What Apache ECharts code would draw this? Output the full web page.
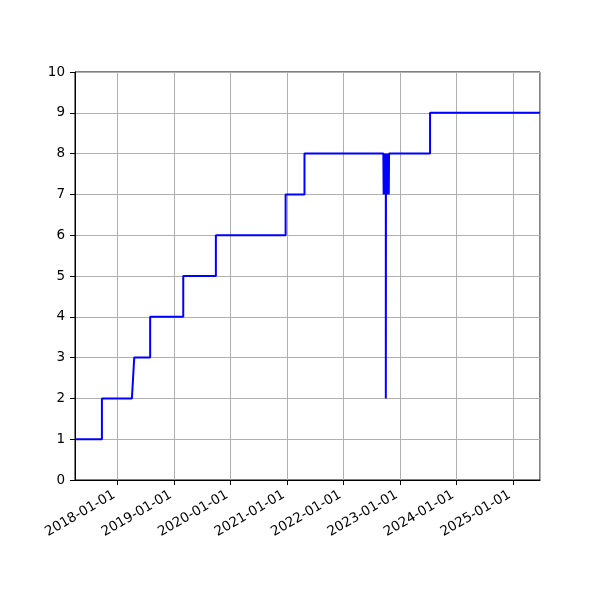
<!DOCTYPE html>
<html>
<head>
<meta charset="utf-8">
<script src="https://cdn.jsdelivr.net/npm/echarts@6/dist/echarts.min.js"></script>
<style>
  html, body { margin: 0; padding: 0; background: #fff; }
  #chart { width: 600px; height: 600px; }
</style>
</head>
<body>
<div id="chart"></div>
<script>
// x range of the plot
const xMin = '2017-03-31'
const xMax = '2025-06-24'

// dates and levels
const dates = [
  '2017-03-31', '2017-09-21', '2017-09-21', '2018-04-03', '2018-04-18',
  '2018-07-30', '2018-07-30', '2019-03-01', '2019-03-01', '2019-09-28',
  '2019-09-28', '2020-12-22', '2020-12-22', '2021-04-23', '2021-04-23',
  '2022-09-15', '2022-09-17', '2022-09-19', '2022-09-21', '2022-09-23',
  '2022-09-25', '2022-09-27', '2022-09-29', '2022-10-01', '2022-10-01',
  '2022-10-02', '2022-10-04', '2022-10-06', '2022-10-08', '2022-10-10',
  '2022-10-12', '2022-10-14', '2022-10-16', '2022-10-18', '2022-10-20',
  '2022-10-22', '2022-10-24', '2023-07-14', '2023-07-14', '2025-06-24'
]
const values = [
  1, 1, 2, 2, 3,
  3, 4, 4, 5, 5,
  6, 6, 7, 7, 8,
  8, 7, 8, 7, 8,
  7, 8, 7, 8, 2,
  8, 7, 8, 7, 8,
  7, 8, 7, 8, 7,
  8, 8, 8, 9, 9
]
const yTicks = [0, 1, 2, 3, 4, 5, 6, 7, 8, 9, 10]

const font = 'DejaVu Sans'
const chart = echarts.init(document.getElementById('chart'))

chart.setOption({
  animation: false,
  grid: {
    left: 75, right: 60, top: 72, bottom: 120,
    show: true, borderColor: '#000', borderWidth: 1
  },
  xAxis: {
    type: 'time',
    min: xMin,
    max: xMax,
    minInterval: 365 * 24 * 3600 * 1000,
    axisLine: { lineStyle: { color: '#000', width: 1 } },
    axisTick: { show: true, length: 5, lineStyle: { color: '#000' } },
    splitLine: { show: true, lineStyle: { color: '#b0b0b0', width: 1 } },
    axisLabel: {
      rotate: 30,
      color: '#000',
      fontFamily: font,
      fontSize: 13.5,
      margin: 12,
      padding: [0, 4, 0, 0],
      formatter: v => echarts.time.format(v, '{yyyy}-{MM}-{dd}', false)
    }
  },
  yAxis: {
    type: 'value',
    min: yTicks[0],
    max: yTicks[yTicks.length - 1],
    interval: 1,
    axisLine: { show: true, lineStyle: { color: '#000', width: 1 } },
    axisTick: { show: true, length: 5, lineStyle: { color: '#000' } },
    splitLine: { show: true, lineStyle: { color: '#b0b0b0', width: 1 } },
    axisLabel: { color: '#000', fontFamily: font, fontSize: 13.5, margin: 10 }
  },
  series: [{
    type: 'line',
    data: dates.map((d, i) => [d, values[i]]),
    showSymbol: false,
    lineStyle: { color: '#0000ff', width: 2 },
    itemStyle: { color: '#0000ff' }
  }]
})
</script>
</body>
</html>
